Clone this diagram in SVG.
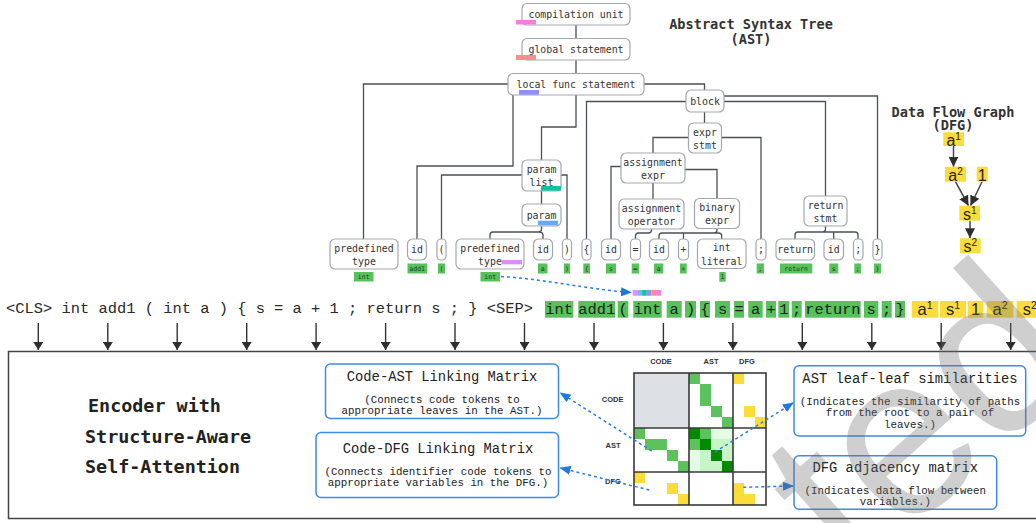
<svg xmlns="http://www.w3.org/2000/svg" width="1036" height="523" viewBox="0 0 1036 523">
<style>
.n{fill:#fff;stroke:#a3a7ae;stroke-width:1.2}
.nt{font-family:"DejaVu Sans Mono",monospace;font-size:9.9px;fill:#333;text-anchor:middle}
.c{fill:none;stroke:#4b5058;stroke-width:1.3}
.g{fill:#57c15b}
.y{fill:#fbdc3a}
.lt{font-family:"DejaVu Sans Mono",monospace;font-size:6.5px;fill:#1e3a1e;text-anchor:middle}
.tk{font-family:"Liberation Mono",monospace;font-size:15.4px;fill:#222;text-anchor:middle}
.yt{font-family:"Liberation Sans",Arial,sans-serif;font-size:16.5px;fill:#222;text-anchor:middle}
.dt{font-family:"Liberation Sans",Arial,sans-serif;font-size:16px;fill:#222;text-anchor:middle}
.ttl{font-family:"DejaVu Sans Mono",monospace;font-size:13.6px;font-weight:bold;fill:#333;text-anchor:middle}
.enc{font-family:"DejaVu Sans Mono",monospace;font-size:18.4px;font-weight:bold;fill:#222}
.bb{fill:#fff;stroke:#3d8be6;stroke-width:1.5}
.bt{font-family:"Liberation Mono",monospace;font-size:13.8px;fill:#222;text-anchor:middle}
.bs{font-family:"Liberation Mono",monospace;font-size:10.8px;fill:#222;text-anchor:middle}
.ml{font-family:"Liberation Sans",Arial,sans-serif;font-size:7.5px;font-weight:bold;fill:#333;text-anchor:middle}
.dash{fill:none;stroke:#2a7de1;stroke-width:1.5;stroke-dasharray:3 3}
.ar{stroke:#333;stroke-width:1.4}
.da{stroke:#444;stroke-width:1.5}
.blk{fill:none;stroke:#3a3a3a;stroke-width:1.6}
.m1{fill:#5bc25e}.m2{fill:#038a03}.m3{fill:#c8f5c8}.m4{fill:#e5fbe5}.my{fill:#fbdc3a}
</style>
<defs>
<marker id="ah" markerWidth="8" markerHeight="10" refX="8" refY="5" orient="auto" markerUnits="userSpaceOnUse"><path d="M0,0 L8,5 L0,10 z" fill="#2e2e2e"/></marker>
<marker id="dh" markerWidth="10" markerHeight="10" refX="10" refY="5" orient="auto" markerUnits="userSpaceOnUse"><path d="M0,0 L10,5 L0,10 z" fill="#2e2e2e"/></marker>
<marker id="bh" markerWidth="11" markerHeight="9" refX="10" refY="4.5" orient="auto" markerUnits="userSpaceOnUse"><path d="M0,0 L11,4.5 L0,9 z" fill="#1f78e0"/></marker>
</defs>
<rect width="1036" height="523" fill="#fff"/>

<!-- titles -->
<text class="ttl" x="751" y="29">Abstract Syntax Tree</text>
<text class="ttl" x="751" y="44">(AST)</text>
<text class="ttl" x="953" y="116.5">Data Flow Graph</text>
<text class="ttl" x="953" y="130">(DFG)</text>

<!-- AST connectors -->
<g id="ast-connectors">
<path class="c" d="M576,25 V38.5"/>
<path class="c" d="M576,60 V73.5"/>
<path class="c" d="M508,84 H363.5 V239"/>
<path class="c" d="M513,95 V166 H417 V239"/>
<path class="c" d="M576,95 V127 H541.5 V160"/>
<path class="c" d="M644,84 H704.5 V90"/>
<path class="c" d="M522,175 H441.5 V239"/>
<path class="c" d="M561,175 H567 V239"/>
<path class="c" d="M541.5,191 V204"/>
<path class="c" d="M541.5,226 V229 Q541.5,232 538.5,232 H493 Q490,232 490,235 V239 M538.5,232 Q543,232 543,235 V239"/>
<path class="c" d="M686,101.5 H586.5 V239"/>
<path class="c" d="M724,96 H877.5 V239"/>
<path class="c" d="M724,101.5 H825.5 V196"/>
<path class="c" d="M704.5,112 V123"/>
<path class="c" d="M688.5,137.5 H653 V153"/>
<path class="c" d="M721.5,137.5 H761 V239"/>
<path class="c" d="M621,166.5 H611 V239"/>
<path class="c" d="M653,183 V199"/>
<path class="c" d="M685,169.5 H717 V198.5"/>
<path class="c" d="M651.5,229 V230 Q651.5,233 648.5,233 H638.5 Q635.5,233 635.5,236 V239"/>
<path class="c" d="M717,228.5 V230 Q717,233 714,233 H662 Q659,233 659,236 V239 M714,233 H718.7 Q721.7,233 721.7,236 V239 M683.5,233 V239"/>
<path class="c" d="M825.5,226 V229 Q825.5,232 822.5,232 H798 Q795,232 795,235 V239 M822.5,232 H855 Q858,232 858,235 V239 M833.7,232 V239"/>
</g>

<!-- AST nodes -->
<g id="n-compilation-unit"><rect class="n" x="522" y="3.5" width="108" height="21.5" rx="5"/><text class="nt" x="576" y="17.5">compilation unit</text><rect x="516" y="20" width="20" height="4.5" fill="#ff7adf"/></g>
<g id="n-global-statement"><rect class="n" x="522" y="38.5" width="108" height="21.5" rx="5"/><text class="nt" x="576" y="52.5">global statement</text><rect x="516" y="55" width="20" height="5" fill="#ff8c8c"/></g>
<g id="n-local-func"><rect class="n" x="508" y="73.5" width="136" height="21.5" rx="5"/><text class="nt" x="576" y="87.5">local func statement</text><rect x="519" y="90" width="20" height="4.7" fill="#8f8fff"/></g>
<g id="n-block"><rect class="n" x="686" y="90" width="38" height="22" rx="5"/><text class="nt" x="705" y="104.5">block</text></g>
<g id="n-expr-stmt"><rect class="n" x="688.5" y="123" width="33" height="30" rx="5"/><text class="nt" x="705" y="135.5">expr</text><text class="nt" x="705" y="148.5">stmt</text></g>
<g id="n-assignment-expr"><rect class="n" x="621" y="153" width="64" height="30" rx="5"/><text class="nt" x="653" y="165.5">assignment</text><text class="nt" x="653" y="178.5">expr</text></g>
<g id="n-param-list"><rect class="n" x="522" y="160" width="39" height="31" rx="5"/><text class="nt" x="541.5" y="172.5">param</text><text class="nt" x="541.5" y="186">list</text><rect x="541" y="186" width="20" height="4.7" fill="#10c3a0"/></g>
<g id="n-param"><rect class="n" x="522" y="204" width="39" height="22" rx="5"/><text class="nt" x="541.5" y="218.5">param</text><rect x="538" y="220.7" width="20" height="4.6" fill="#6aa8f2"/></g>
<g id="n-assignment-operator"><rect class="n" x="619" y="199" width="65" height="30" rx="5"/><text class="nt" x="651.5" y="211.5">assignment</text><text class="nt" x="651.5" y="224.5">operator</text></g>
<g id="n-binary-expr"><rect class="n" x="694.5" y="198.5" width="45" height="30" rx="5"/><text class="nt" x="717" y="211">binary</text><text class="nt" x="717" y="224">expr</text></g>
<g id="n-return-stmt"><rect class="n" x="804" y="196" width="43" height="30" rx="5"/><text class="nt" x="825.5" y="208.5">return</text><text class="nt" x="825.5" y="221.5">stmt</text></g>

<!-- leaves -->
<g id="leaf-predefined-type-1"><rect class="n" x="330" y="239" width="68" height="30" rx="5"/><text class="nt" x="364" y="251.5">predefined</text><text class="nt" x="364" y="264.5">type</text><rect class="g" x="354" y="272" width="19.5" height="9.5"/><text class="lt" x="363.7" y="279.3">int</text></g>
<g id="leaf-id-add1"><rect class="n" x="407.5" y="239" width="19" height="21" rx="5"/><text class="nt" x="417" y="253">id</text><rect class="g" x="407.5" y="263.5" width="19.5" height="10"/><text class="lt" x="417.2" y="271">add1</text></g>
<g id="leaf-lparen"><rect class="n" x="437" y="239" width="9" height="21" rx="4"/><text class="nt" x="441.5" y="253">(</text><rect class="g" x="438" y="263.5" width="7" height="10"/><text class="lt" x="441.5" y="271">(</text></g>
<g id="leaf-predefined-type-2"><rect class="n" x="456" y="239" width="68" height="30" rx="5"/><text class="nt" x="490" y="251.5">predefined</text><text class="nt" x="490" y="264.5">type</text><rect x="501.7" y="260" width="20.3" height="4.3" fill="#de8cff"/><rect class="g" x="480.5" y="272" width="19.5" height="9.5"/><text class="lt" x="490.2" y="279.3">int</text></g>
<g id="leaf-id-a"><rect class="n" x="533.5" y="239" width="19" height="21" rx="5"/><text class="nt" x="543" y="253">id</text><rect class="g" x="538" y="263.5" width="9.5" height="10"/><text class="lt" x="542.7" y="271">a</text></g>
<g id="leaf-rparen"><rect class="n" x="562.5" y="239" width="9" height="21" rx="4"/><text class="nt" x="567" y="253">)</text><rect class="g" x="564" y="263.5" width="6" height="10"/><text class="lt" x="567" y="271">)</text></g>
<g id="leaf-lbrace"><rect class="n" x="582" y="239" width="9" height="21" rx="4"/><text class="nt" x="586.5" y="253">{</text><rect class="g" x="583.3" y="263.5" width="6.7" height="10"/><text class="lt" x="586.6" y="271">{</text></g>
<g id="leaf-id-s"><rect class="n" x="601.5" y="239" width="19" height="21" rx="5"/><text class="nt" x="611" y="253">id</text><rect class="g" x="606" y="263.5" width="10" height="10"/><text class="lt" x="611" y="271">s</text></g>
<g id="leaf-eq"><rect class="n" x="630.5" y="239" width="10" height="21" rx="4"/><text class="nt" x="635.5" y="253">=</text><rect class="g" x="631.7" y="263.5" width="7.3" height="10"/><text class="lt" x="635.3" y="271">=</text></g>
<g id="leaf-id-a2"><rect class="n" x="649.5" y="239" width="19" height="21" rx="5"/><text class="nt" x="659" y="253">id</text><rect class="g" x="654" y="263.5" width="9.3" height="10"/><text class="lt" x="658.6" y="271">a</text></g>
<g id="leaf-plus"><rect class="n" x="678.5" y="239" width="10" height="21" rx="4"/><text class="nt" x="683.5" y="253">+</text><rect class="g" x="680" y="263.5" width="6.7" height="10"/><text class="lt" x="683.3" y="271">+</text></g>
<g id="leaf-int-literal"><rect class="n" x="697.5" y="239" width="48.5" height="29.5" rx="5"/><text class="nt" x="721.7" y="251">int</text><text class="nt" x="721.7" y="264.5">literal</text><rect class="g" x="719.3" y="272" width="6.4" height="9.7"/><text class="lt" x="722.5" y="279.3">1</text></g>
<g id="leaf-semi-1"><rect class="n" x="756" y="239" width="10" height="21" rx="4"/><text class="nt" x="761" y="253">;</text><rect class="g" x="756.7" y="263.5" width="7.3" height="10"/><text class="lt" x="760.3" y="271">;</text></g>
<g id="leaf-return"><rect class="n" x="776" y="239" width="38.5" height="21" rx="5"/><text class="nt" x="795.2" y="253">return</text><rect class="g" x="780" y="263.5" width="32.3" height="10"/><text class="lt" x="796.1" y="271">return</text></g>
<g id="leaf-id-s2"><rect class="n" x="824" y="239" width="19.5" height="21" rx="5"/><text class="nt" x="833.7" y="253">id</text><rect class="g" x="829.3" y="263.5" width="9" height="10"/><text class="lt" x="833.8" y="271">s</text></g>
<g id="leaf-semi-2"><rect class="n" x="853.5" y="239" width="9.5" height="21" rx="4"/><text class="nt" x="858.2" y="253">;</text><rect class="g" x="854.3" y="263.5" width="6.7" height="10"/><text class="lt" x="857.6" y="271">;</text></g>
<g id="leaf-rbrace"><rect class="n" x="873" y="239" width="9" height="21" rx="4"/><text class="nt" x="877.5" y="253">}</text><rect class="g" x="874" y="263.5" width="7" height="10"/><text class="lt" x="877.5" y="271">}</text></g>

<!-- DFG -->
<g id="dfg-connectors">
<line class="da" x1="953.5" y1="146" x2="953.5" y2="166.7" marker-end="url(#dh)"/>
<line class="da" x1="955.5" y1="181.7" x2="968.5" y2="205.7" marker-end="url(#dh)"/>
<line class="da" x1="982" y1="181.7" x2="970.5" y2="205.7" marker-end="url(#dh)"/>
<line class="da" x1="970" y1="220.7" x2="970" y2="238.3" marker-end="url(#dh)"/>
</g>
<g id="dfg-a1"><rect class="y" x="943.3" y="132.3" width="20.7" height="13.7"/><text class="dt" x="953.7" y="145.5">a<tspan font-size="10" dy="-6">1</tspan></text></g>
<g id="dfg-a2"><rect class="y" x="945" y="166.7" width="21" height="15"/><text class="dt" x="955.5" y="180.5">a<tspan font-size="10" dy="-6">2</tspan></text></g>
<g id="dfg-1"><rect class="y" x="976.7" y="166.7" width="11" height="15"/><text class="dt" x="982.2" y="180.5">1</text></g>
<g id="dfg-s1"><rect class="y" x="959.3" y="205.7" width="20.7" height="15"/><text class="dt" x="969.7" y="219.5">s<tspan font-size="10" dy="-6">1</tspan></text></g>
<g id="dfg-s2"><rect class="y" x="960" y="238.3" width="20.7" height="15"/><text class="dt" x="970.3" y="252">s<tspan font-size="10" dy="-6">2</tspan></text></g>

<!-- token row -->
<g id="token-text">
<text font-family="Liberation Mono, monospace" font-size="15.4" fill="#2a2a2a" x="6" y="313" textLength="527" lengthAdjust="spacing">&lt;CLS&gt; int add1 ( int a ) { s = a + 1 ; return s ; } &lt;SEP&gt;</text>
</g>
<g id="token-boxes">
<rect class="g" x="545" y="301" width="28.3" height="16.7"/><text class="tk" x="559.2" y="314">int</text>
<rect class="g" x="578.3" y="301" width="36.7" height="16.7"/><text class="tk" x="596.7" y="314">add1</text>
<rect class="g" x="617.7" y="301" width="10.6" height="16.7"/><text class="tk" x="623" y="314">(</text>
<rect class="g" x="633.3" y="301" width="28.4" height="16.7"/><text class="tk" x="647.5" y="314">int</text>
<rect class="g" x="666.7" y="301" width="15" height="16.7"/><text class="tk" x="674.2" y="314">a</text>
<rect class="g" x="685" y="301" width="11" height="16.7"/><text class="tk" x="690.5" y="314">)</text>
<rect class="g" x="700" y="301" width="10" height="16.7"/><text class="tk" x="705" y="314">{</text>
<rect class="g" x="715" y="301" width="15" height="16.7"/><text class="tk" x="722.5" y="314">s</text>
<rect class="g" x="734" y="301" width="10" height="16.7"/><text class="tk" x="739" y="314">=</text>
<rect class="g" x="748.3" y="301" width="14.4" height="16.7"/><text class="tk" x="755.5" y="314">a</text>
<rect class="g" x="766" y="301" width="10" height="16.7"/><text class="tk" x="771" y="314">+</text>
<rect class="g" x="778.3" y="301" width="11" height="16.7"/><text class="tk" x="783.8" y="314">1</text>
<rect class="g" x="791.7" y="301" width="10" height="16.7"/><text class="tk" x="796.7" y="314">;</text>
<rect class="g" x="805" y="301" width="55.7" height="16.7"/><text class="tk" x="832.9" y="314">return</text>
<rect class="g" x="864" y="301" width="14.3" height="16.7"/><text class="tk" x="871.2" y="314">s</text>
<rect class="g" x="881.7" y="301" width="10" height="16.7"/><text class="tk" x="886.7" y="314">;</text>
<rect class="g" x="895" y="301" width="10" height="16.7"/><text class="tk" x="900" y="314">}</text>
<rect class="y" x="911.7" y="301" width="26.6" height="16.7"/><text class="yt" x="925" y="315">a<tspan font-size="10.5" dy="-6.5">1</tspan></text>
<rect class="y" x="940" y="301" width="26" height="16.7"/><text class="yt" x="953" y="315">s<tspan font-size="10.5" dy="-6.5">1</tspan></text>
<rect class="y" x="967.7" y="301" width="15.6" height="16.7"/><text class="yt" x="975.5" y="315">1</text>
<rect class="y" x="986.7" y="301" width="26.6" height="16.7"/><text class="yt" x="1000" y="315">a<tspan font-size="10.5" dy="-6.5">2</tspan></text>
<rect class="y" x="1016.7" y="301" width="26" height="16.7"/><text class="yt" x="1029.7" y="315">s<tspan font-size="10.5" dy="-6.5">2</tspan></text>
</g>
<g id="leaf-link">
<path class="dash" d="M501,276.5 C545,279 585,289 631,292.5" marker-end="url(#bh)"/>
<rect x="632.7" y="290" width="4.7" height="5.7" fill="#de8cff"/>
<rect x="637.4" y="290" width="4.7" height="5.7" fill="#7fb0f5"/>
<rect x="642.1" y="290" width="4.7" height="5.7" fill="#10c3a0"/>
<rect x="646.8" y="290" width="4.7" height="5.7" fill="#8f8fff"/>
<rect x="651.5" y="290" width="4.7" height="5.7" fill="#ff8c8c"/>
<rect x="656.2" y="290" width="4.7" height="5.7" fill="#ff7adf"/>
</g>

<!-- input arrows -->
<g id="input-arrows">
<line class="ar" x1="38.3" y1="323" x2="38.3" y2="350" marker-end="url(#ah)"/>
<line class="ar" x1="107.8" y1="323" x2="107.8" y2="350" marker-end="url(#ah)"/>
<line class="ar" x1="177.2" y1="323" x2="177.2" y2="350" marker-end="url(#ah)"/>
<line class="ar" x1="246.7" y1="323" x2="246.7" y2="350" marker-end="url(#ah)"/>
<line class="ar" x1="316.1" y1="323" x2="316.1" y2="350" marker-end="url(#ah)"/>
<line class="ar" x1="385.6" y1="323" x2="385.6" y2="350" marker-end="url(#ah)"/>
<line class="ar" x1="455" y1="323" x2="455" y2="350" marker-end="url(#ah)"/>
<line class="ar" x1="524.5" y1="323" x2="524.5" y2="350" marker-end="url(#ah)"/>
<line class="ar" x1="594" y1="323" x2="594" y2="350" marker-end="url(#ah)"/>
<line class="ar" x1="663.4" y1="323" x2="663.4" y2="350" marker-end="url(#ah)"/>
<line class="ar" x1="732.9" y1="323" x2="732.9" y2="350" marker-end="url(#ah)"/>
<line class="ar" x1="802.3" y1="323" x2="802.3" y2="350" marker-end="url(#ah)"/>
<line class="ar" x1="871.8" y1="323" x2="871.8" y2="350" marker-end="url(#ah)"/>
<line class="ar" x1="941.2" y1="323" x2="941.2" y2="350" marker-end="url(#ah)"/>
<line class="ar" x1="1010.7" y1="323" x2="1010.7" y2="350" marker-end="url(#ah)"/>
</g>

<!-- encoder box -->
<g id="encoder">
<rect x="8.5" y="351.5" width="1040" height="167" fill="none" stroke="#444" stroke-width="1.5"/>
<text class="enc" x="88" y="412">Encoder with</text>
<text class="enc" x="85" y="443">Structure-Aware</text>
<text class="enc" x="85" y="473">Self-Attention</text>
</g>

<g id="code-ast-box"><rect class="bb" x="325.5" y="364" width="233" height="54.5" rx="5"/><text class="bt" x="442" y="381">Code-AST Linking Matrix</text><text class="bs" x="442" y="402.5">(Connects code tokens to</text><text class="bs" x="442" y="413.5">appropriate leaves in the AST.)</text></g>
<g id="code-dfg-box"><rect class="bb" x="316" y="432.5" width="242.5" height="65" rx="5"/><text class="bt" x="438" y="452.5">Code-DFG Linking Matrix</text><text class="bs" x="438" y="475">(Connects identifier code tokens to</text><text class="bs" x="438" y="486">appropriate variables in the DFG.)</text></g>
<g id="ast-leaf-box"><rect class="bb" x="794" y="365.7" width="231.7" height="70.3" rx="5"/><text class="bt" x="910" y="383.3">AST leaf-leaf similarities</text><text class="bs" x="910" y="405">(Indicates the similarity of paths</text><text class="bs" x="910" y="416">from the root to a pair of</text><text class="bs" x="910" y="427.5">leaves.)</text></g>
<g id="dfg-adj-box"><rect class="bb" x="794" y="455.7" width="202.7" height="53.6" rx="5"/><text class="bt" x="895.3" y="472.3">DFG adjacency matrix</text><text class="bs" x="895.3" y="494">(Indicates data flow between</text><text class="bs" x="895.3" y="505">variables.)</text></g>

<!-- matrix -->
<g id="matrix">
<text class="ml" x="661" y="364">CODE</text>
<text class="ml" x="711" y="364">AST</text>
<text class="ml" x="747" y="364">DFG</text>
<text class="ml" x="612.7" y="402">CODE</text>
<text class="ml" x="613" y="448">AST</text>
<text class="ml" x="613" y="484">DFG</text>
<rect x="634" y="373" width="55" height="55" fill="#dde0e4"/>
<rect class="m1" x="689" y="373" width="11" height="11"/>
<rect class="m1" x="700" y="384" width="11" height="22"/>
<rect class="m1" x="711" y="406" width="11" height="11"/>
<rect class="m1" x="722" y="417" width="11" height="11"/>
<rect class="my" x="733" y="373" width="11" height="11"/>
<rect class="my" x="744" y="406" width="11" height="11"/>
<rect class="my" x="755" y="417" width="11" height="11"/>
<rect class="m1" x="634" y="428" width="11" height="11"/>
<rect class="m1" x="645" y="439" width="22" height="11"/>
<rect class="m1" x="667" y="450" width="11" height="11"/>
<rect class="m1" x="678" y="461" width="11" height="11"/>
<rect class="m4" x="689" y="428" width="44" height="44"/>
<rect class="m3" x="700" y="450" width="33" height="22"/>
<rect class="m3" x="711" y="439" width="22" height="11"/>
<rect class="m2" x="689" y="428" width="11" height="11"/>
<rect class="m1" x="700" y="428" width="11" height="11"/>
<rect class="m1" x="689" y="439" width="11" height="11"/>
<rect class="m2" x="700" y="439" width="11" height="11"/>
<rect class="m2" x="711" y="450" width="11" height="11"/>
<rect class="m2" x="722" y="461" width="11" height="11"/>
<rect class="my" x="634" y="472" width="11" height="11"/>
<rect class="my" x="667" y="483" width="11" height="11"/>
<rect class="my" x="678" y="494" width="11" height="11"/>
<rect class="my" x="733" y="483" width="11" height="22"/>
<rect class="my" x="744" y="494" width="11" height="11"/>
<rect class="blk" x="634" y="373" width="132" height="132"/>
<path class="blk" d="M689,373 V505 M733,373 V505 M634,428 H766 M634,472 H766"/>
</g>

<g id="matrix-links">
<path class="dash" d="M651.7,451 L560.5,393" marker-end="url(#bh)"/>
<path class="dash" d="M649.3,490 L560.5,468" marker-end="url(#bh)"/>
<path class="dash" d="M715,452 L793,403" marker-end="url(#bh)"/>
<path class="dash" d="M743.3,487.3 L793,486" marker-end="url(#bh)"/>
</g>

<!-- watermark -->
<text transform="translate(1091,368) rotate(-42)" text-anchor="end" font-family="Liberation Sans, Arial, sans-serif" font-size="230" fill="#6e6e6e" fill-opacity="0.33">ted</text>
</svg>
